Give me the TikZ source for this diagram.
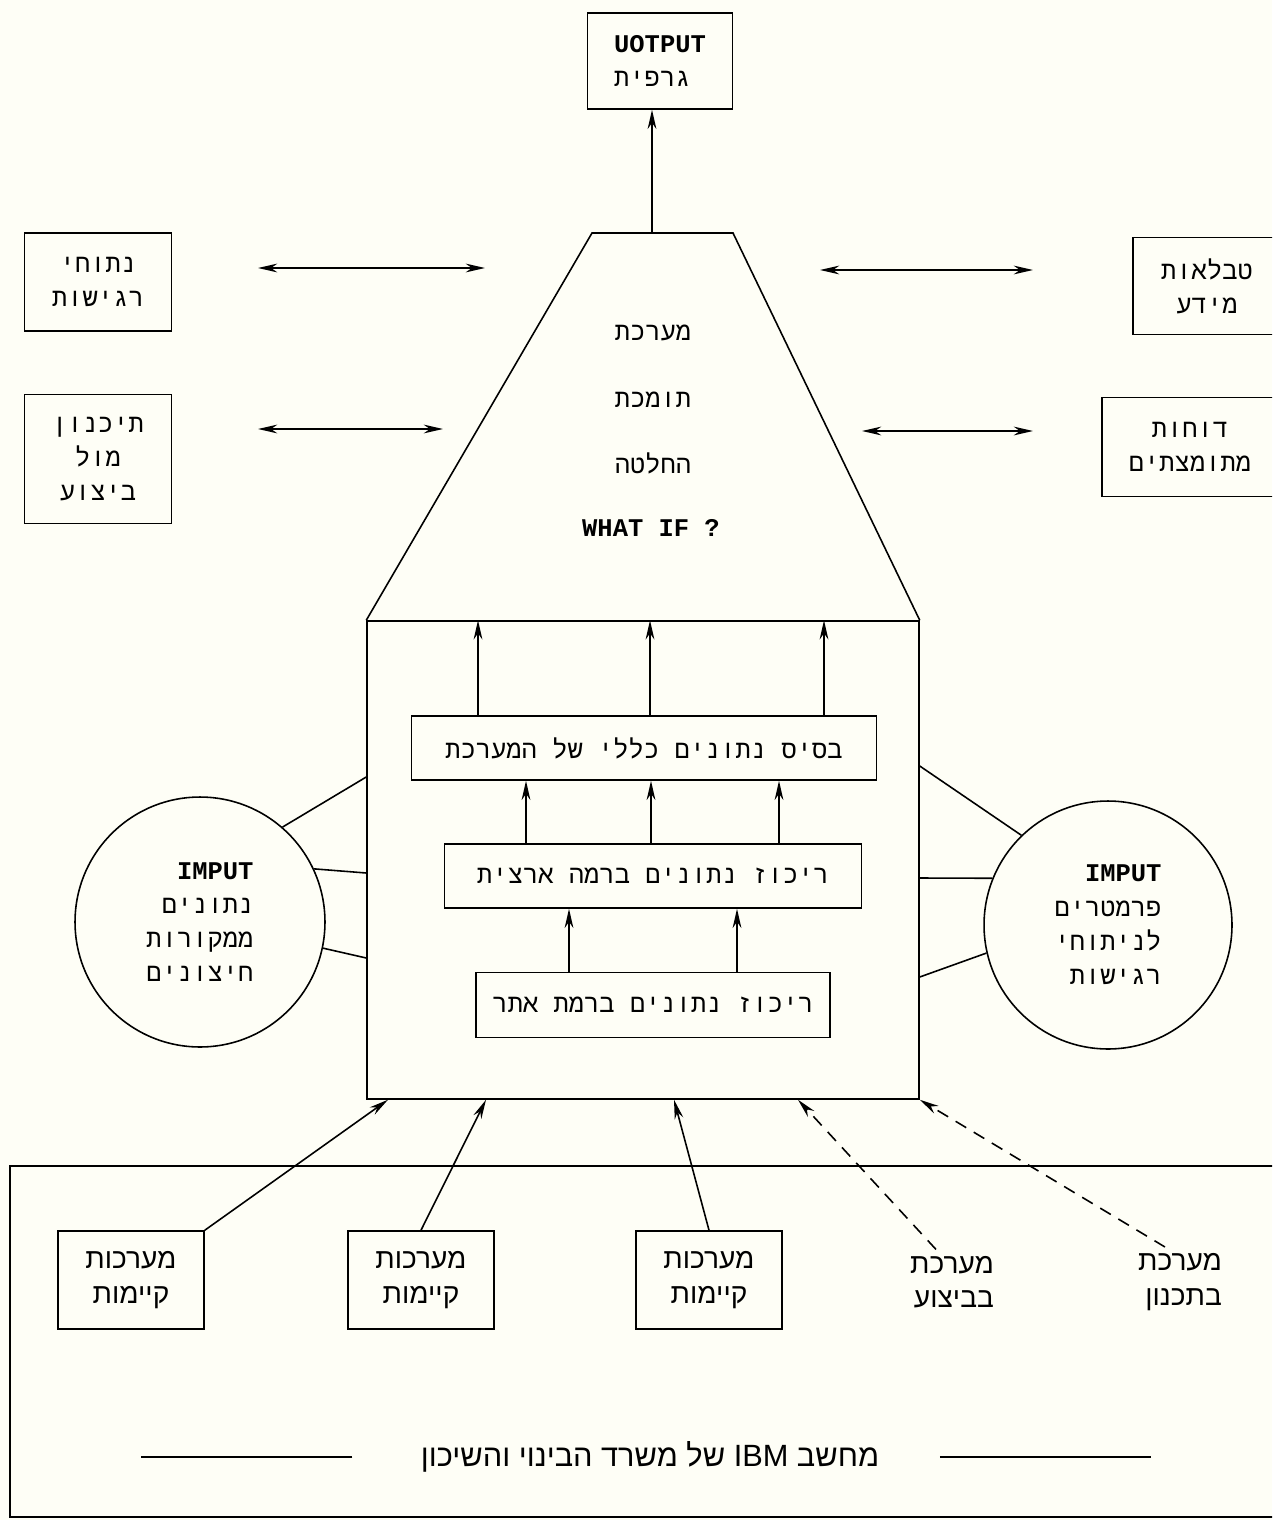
\documentclass[tikz,border=0pt]{standalone}
\usepackage{fontspec}
\usepackage{tikz}
\usetikzlibrary{arrows.meta}
\setmainfont{Liberation Mono}
\newfontfamily\hebfont[Script=Hebrew]{Liberation Mono}
\newfontfamily\hebsans[Script=Hebrew]{Liberation Sans}
\TeXXeTstate=1
\newcommand{\heb}[1]{{\hebfont\beginR #1\endR}}
\newcommand{\hebs}[1]{{\hebsans\beginR #1\endR}}
\definecolor{paper}{RGB}{254,254,246}

\begin{document}
\begin{tikzpicture}[x=0.02cm, y=-0.02cm, line width=0.9pt,
		font=\fontsize{14.5}{19.5}\selectfont,
		box/.style={draw, inner sep=0pt, align=center},
		sans/.style={font=\fontsize{16}{19.5}\selectfont},
		arr/.style={-{Stealth[length=11pt,width=5pt]}},
		dbl/.style={{Stealth[length=11pt,width=5pt]}-{Stealth[length=11pt,width=5pt]}},
		dash line/.style={dash pattern=on 7pt off 5pt}]
		\path[use as bounding box, fill=paper] (0,0) rectangle (1272,1520);
		\clip (0,0) rectangle (1272,1520);
		% output and decision support
		\node[box, minimum width=2.9cm, minimum height=1.92cm, align=left] (out) at (660,61) {\textbf{UOTPUT}\\\heb{גרפית}};
		\node[draw, minimum width=11.04cm, minimum height=9.56cm] (mainbox) at (643,860) {};
		\draw (mainbox.north west) -- (592,233) -- (733,233) -- (mainbox.north east);
		\coordinate (apex) at (652,233);
		\draw[arr] (apex) -- (out.south -| apex);
		\node (tr1) at (653,333) {\heb{מערכת}};
		\node (tr2) at (653,400) {\heb{תומכת}};
		\node (tr3) at (653,463) {\heb{החלטה}};
		\node (tr4) at (651,528) {\textbf{WHAT IF ?}};
		% side boxes
		\node[box, minimum width=2.94cm, minimum height=1.96cm] (sens) at (98,282) {\heb{נתוחי}\\\heb{רגישות}};
		\node[box, minimum width=2.94cm, minimum height=2.58cm] (plan) at (98,459) {\heb{תיכנון}\\\heb{מול}\\\heb{ביצוע}};
		\node[box, minimum width=2.96cm, minimum height=1.94cm] (tabs) at (1207,286) {\heb{טבלאות}\\\heb{מידע}};
		\node[box, minimum width=3.52cm, minimum height=1.98cm] (reps) at (1190,447) {\heb{דוחות}\\\heb{מתומצתים}};
		\coordinate (la1) at (258,268); \coordinate (lb1) at (485,268);
		\coordinate (la2) at (258,429); \coordinate (lb2) at (443,429);
		\coordinate (ra1) at (820,270); \coordinate (rb1) at (1033,270);
		\coordinate (ra2) at (862,431); \coordinate (rb2) at (1033,431);
		\draw[dbl] (la1) -- (lb1);
		\draw[dbl] (la2) -- (lb2);
		\draw[dbl] (ra1) -- (rb1);
		\draw[dbl] (ra2) -- (rb2);
		% data levels
		\node[box, minimum width=9.3cm, minimum height=1.28cm] (dbbox) at (644,748) {\heb{בסיס נתונים כללי של המערכת}};
		\node[box, minimum width=8.34cm, minimum height=1.28cm] (natbox) at (653,876) {\heb{ריכוז נתונים ברמה ארצית}};
		\node[box, minimum width=7.08cm, minimum height=1.3cm] (sitebox) at (653,1005) {\heb{ריכוז נתונים ברמת אתר}};
		\foreach \xx in {478,650,824} \draw[arr] (dbbox.north -| \xx,0) -- (mainbox.north -| \xx,0);
		\foreach \xx in {526,651,779} \draw[arr] (natbox.north -| \xx,0) -- (dbbox.south -| \xx,0);
		\foreach \xx in {569,737} \draw[arr] (sitebox.north -| \xx,0) -- (natbox.south -| \xx,0);
		% inputs
		\node[draw, circle, minimum size=5cm, inner sep=0pt, align=right] (extin) at (200,922) {\textbf{IMPUT}\\\heb{נתונים}\\\heb{ממקורות}\\\heb{חיצונים}};
		\node[draw, circle, minimum size=4.96cm, inner sep=0pt, align=right] (parin) at (1108,925) {\textbf{IMPUT}\\\heb{פרמטרים}\\\heb{לניתוחי}\\\heb{רגישות}};
		\draw (extin.49) -- (mainbox.west |- 0,777);
		\draw (extin.25) -- (mainbox.west |- 0,873);
		\draw (extin.-12) -- (mainbox.west |- 0,958);
		\draw (parin.134) -- (mainbox.east |- 0,766);
		\draw (parin.158) -- (mainbox.east |- 0,878);
		\draw (parin.193) -- (mainbox.east |- 0,977);
		% IBM computer
		\draw (10,1166) rectangle (1300,1517);
		\node[box, sans, minimum width=2.92cm, minimum height=1.96cm] (sys1) at (131,1280) {\hebs{מערכות}\\\hebs{קיימות}};
		\node[box, sans, minimum width=2.92cm, minimum height=1.96cm] (sys2) at (421,1280) {\hebs{מערכות}\\\hebs{קיימות}};
		\node[box, sans, minimum width=2.92cm, minimum height=1.96cm] (sys3) at (709,1280) {\hebs{מערכות}\\\hebs{קיימות}};
		\node[sans, align=right] (ops) at (952,1282) {\hebs{מערכת}\\\hebs{בביצוע}};
		\node[sans, align=right] (des) at (1180,1282) {\hebs{מערכת}\\\hebs{בתכנון}};
		\draw[arr] (sys1.north east) -- (mainbox.south -| 388,0);
		\draw[arr] (sys2.north) -- (mainbox.south -| 486,0);
		\draw[arr] (sys3.north) -- (mainbox.south -| 674,0);
		\draw[arr, dash line] ([xshift=-0.32cm]ops.north) -- (mainbox.south -| 798,0);
		\draw[arr, dash line] ([xshift=-0.3cm]des.north) -- (mainbox.south east);
		\node[font=\fontsize{17.5}{20}\selectfont] (ibm) at (650,1457) {\hebs{מחשב \beginL IBM\endL{} של משרד הבינוי והשיכון}};
		\draw[line width=1.4pt] ([xshift=-1.24cm]ibm.west) -- ++(-4.22cm,0);
		\draw[line width=1.4pt] ([xshift=1.08cm]ibm.east) -- ++(4.22cm,0);
	\end{tikzpicture}
\end{document}
